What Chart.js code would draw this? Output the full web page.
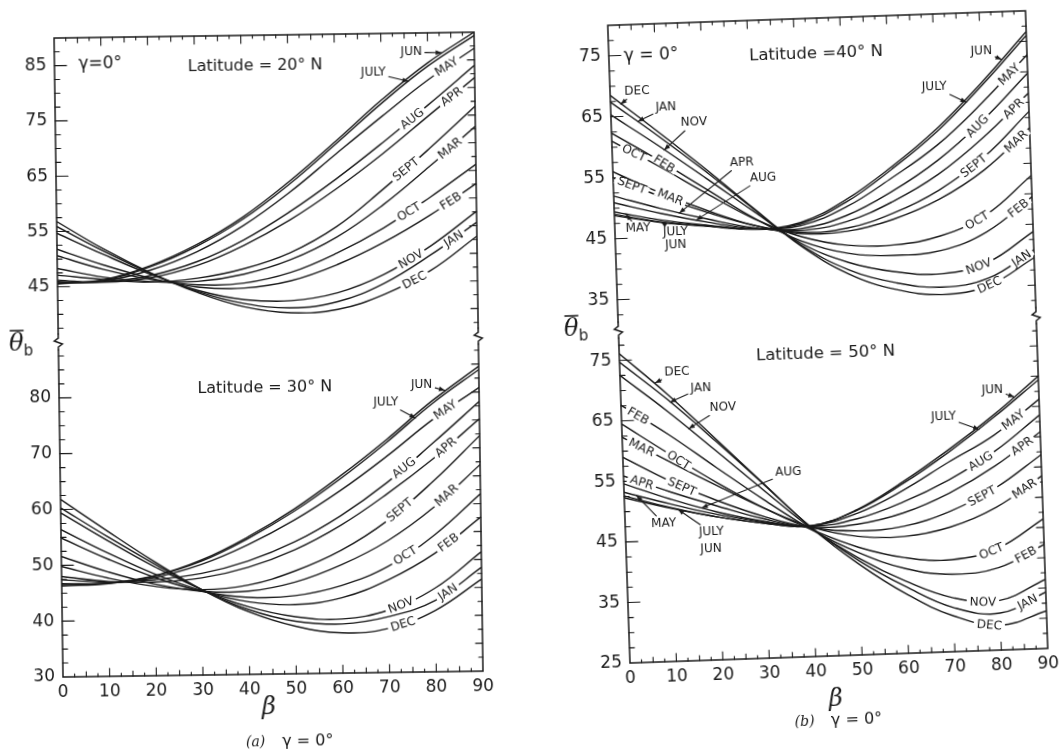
<!DOCTYPE html>
<html>
<head>
<meta charset="utf-8">
<script src="https://cdn.jsdelivr.net/npm/chart.js@4.4.1/dist/chart.umd.min.js"></script>
<style>
  html, body { margin: 0; padding: 0; background: #fff; }
  body { width: 1064px; height: 754px; position: relative; overflow: hidden; }
  .col { position: absolute; top: 0; height: 754px; }
  #colA { left: 0; width: 540px; transform-origin: 63px 677px; transform: rotate(-0.8deg); }
  #colB { left: 540px; width: 524px; transform-origin: 90px 663px; transform: rotate(-2deg); }
</style>
</head>
<body>
<div class="col" id="colA"><canvas id="chartA" width="540" height="754"></canvas></div>
<div class="col" id="colB"><canvas id="chartB" width="524" height="754"></canvas></div>
<script>
// slope of the collector, degrees
const beta = [0, 10, 20, 30, 40, 50, 60, 70, 80, 90];
const betaTicks = [0, 10, 20, 30, 40, 50, 60, 70, 80, 90];
const months = ['JAN', 'FEB', 'MAR', 'APR', 'MAY', 'JUN', 'JULY', 'AUG', 'SEPT', 'OCT', 'NOV', 'DEC'];

// mean beam incidence angle, one row per month (JAN..DEC)
const lat20 = [
  [55.9, 51.3, 47.2, 43.8, 41.5, 40.6, 41.6, 44.8, 49.8, 55.6],
  [51.8, 48.8, 46.3, 44.6, 44.3, 45.5, 48.3, 52.2, 57.0, 62.6],
  [48.3, 46.6, 45.7, 45.6, 46.8, 49.3, 53.3, 59.0, 65.8, 73.0],
  [46.2, 45.7, 46.4, 48.5, 52.0, 56.5, 62.0, 68.2, 75.0, 81.8],
  [45.7, 45.9, 47.8, 51.0, 55.6, 61.5, 68.3, 75.0, 81.5, 87.1],
  [45.5, 46.2, 48.6, 52.3, 57.2, 63.5, 70.6, 78.0, 84.6, 90.0],
  [45.6, 46.1, 48.4, 52.0, 56.8, 63.0, 70.1, 77.4, 84.0, 89.4],
  [45.9, 45.8, 46.8, 49.2, 53.0, 58.0, 63.8, 70.2, 77.0, 84.0],
  [47.1, 46.2, 45.6, 46.2, 47.8, 50.6, 55.2, 61.8, 69.0, 76.6],
  [50.6, 48.0, 46.1, 45.0, 45.2, 47.0, 50.4, 54.8, 60.2, 66.1],
  [54.7, 50.7, 47.0, 44.0, 42.2, 41.9, 43.2, 46.4, 51.4, 57.6],
  [56.8, 51.7, 47.3, 43.6, 40.9, 39.7, 40.2, 42.8, 47.0, 53.1]
];
const lat30 = [
  [60.3, 55.0, 50.0, 45.3, 41.6, 39.4, 38.8, 40.0, 42.8, 48.6],
  [56.4, 52.1, 48.2, 45.1, 43.0, 42.4, 43.5, 46.6, 51.2, 57.6],
  [51.6, 48.7, 46.4, 45.0, 44.9, 46.4, 49.4, 53.6, 59.5, 67.0],
  [48.0, 47.0, 46.8, 47.4, 49.2, 52.2, 56.5, 62.0, 68.2, 75.2],
  [46.7, 46.7, 47.6, 49.8, 53.2, 57.5, 62.7, 68.7, 75.2, 80.8],
  [46.3, 46.6, 47.9, 50.6, 54.6, 59.5, 65.3, 71.7, 78.6, 84.6],
  [46.5, 46.7, 47.9, 50.4, 54.3, 59.1, 64.8, 71.2, 78.1, 84.0],
  [47.4, 46.9, 47.2, 48.2, 50.3, 53.6, 58.2, 64.0, 71.0, 78.3],
  [49.8, 47.6, 46.0, 45.3, 46.0, 48.4, 52.0, 57.2, 64.2, 72.2],
  [54.9, 51.0, 47.6, 45.0, 43.8, 44.0, 45.7, 49.0, 54.5, 61.8],
  [59.4, 54.3, 49.5, 45.3, 42.1, 40.2, 39.7, 41.2, 45.0, 51.4],
  [61.8, 56.0, 50.4, 45.3, 41.2, 38.5, 37.2, 37.9, 41.0, 46.5]
];
const lat40 = [
  [67.4, 61.6, 55.5, 49.1, 42.9, 38.6, 36.2, 35.2, 36.4, 40.8],
  [62.3, 57.6, 52.6, 47.6, 43.6, 41.3, 40.7, 41.2, 44.0, 49.5],
  [56.0, 52.3, 49.1, 46.4, 44.8, 44.9, 46.6, 49.6, 54.2, 60.8],
  [52.0, 49.7, 47.7, 46.0, 45.3, 46.5, 49.5, 53.7, 59.5, 66.5],
  [49.4, 47.8, 46.7, 45.8, 46.1, 48.9, 53.4, 58.5, 65.2, 72.8],
  [48.8, 47.4, 46.5, 45.8, 46.6, 50.1, 55.2, 61.2, 68.5, 76.6],
  [49.0, 47.5, 46.6, 45.8, 46.4, 49.7, 54.8, 60.7, 68.0, 76.0],
  [50.9, 48.9, 47.2, 45.9, 45.6, 47.5, 51.2, 56.0, 62.3, 69.8],
  [55.0, 51.7, 48.8, 46.4, 45.0, 45.4, 47.6, 51.1, 56.3, 63.5],
  [61.0, 56.6, 51.9, 47.5, 44.3, 42.6, 42.4, 43.6, 46.8, 53.0],
  [65.3, 60.0, 54.4, 48.7, 43.2, 39.8, 38.0, 37.4, 39.0, 43.8],
  [68.5, 62.3, 55.9, 49.2, 42.7, 37.9, 35.1, 34.0, 35.2, 39.5]
];
const lat50 = [
  [74.7, 68.3, 61.2, 53.8, 46.4, 40.6, 36.0, 32.3, 31.1, 34.3],
  [67.6, 62.5, 56.8, 51.2, 46.0, 41.9, 39.0, 37.8, 38.6, 42.2],
  [62.3, 58.0, 53.8, 49.8, 46.4, 44.6, 44.3, 45.6, 48.6, 53.5],
  [55.9, 53.0, 50.4, 48.0, 46.4, 46.6, 48.2, 51.2, 55.4, 60.8],
  [53.2, 51.0, 49.0, 47.5, 46.6, 48.4, 51.9, 56.3, 60.5, 66.2],
  [52.3, 50.3, 48.6, 47.3, 46.6, 49.0, 53.3, 58.3, 63.8, 70.0],
  [52.6, 50.4, 48.6, 47.3, 46.6, 48.9, 53.0, 57.9, 63.4, 69.4],
  [54.6, 51.8, 49.4, 47.6, 46.5, 47.5, 50.0, 53.4, 57.8, 63.6],
  [59.0, 54.8, 51.3, 48.4, 46.3, 45.5, 46.0, 48.2, 51.8, 57.0],
  [64.5, 59.3, 54.3, 49.8, 46.0, 42.8, 40.8, 40.2, 41.8, 46.4],
  [72.5, 66.3, 59.6, 52.8, 46.2, 41.0, 36.9, 33.9, 33.2, 36.4],
  [76.1, 69.2, 61.6, 53.9, 46.3, 40.0, 34.8, 30.9, 29.1, 31.2]
];

// tick labels of each panel
const ticks20 = [45, 55, 65, 75, 85];
const ticks30 = [30, 40, 50, 60, 70, 80];
const ticks40 = [35, 45, 55, 65, 75];
const ticks50 = [25, 35, 45, 55, 65, 75];

// curve labels: [month, beta along curve] written on the line
const inline20 = [['AUG', 76.5], ['SEPT', 75], ['OCT', 75.5], ['NOV', 75.8], ['DEC', 76.5],
  ['MAY', 84], ['APR', 85], ['MAR', 84.5], ['FEB', 84.5], ['JAN', 85]];
const inline30 = [['AUG', 73.7], ['SEPT', 72.6], ['OCT', 73.7], ['NOV', 72.6], ['DEC', 73],
  ['MAY', 82.7], ['APR', 82.7], ['MAR', 82.7], ['FEB', 83], ['JAN', 82.7]];
const inline40 = [['AUG', 78.8], ['SEPT', 77.7], ['OCT', 78], ['NOV', 78], ['DEC', 80.2],
  ['MAY', 86], ['APR', 86.7], ['MAR', 87], ['FEB', 87], ['JAN', 87.3],
  ['OCT', 4.7], ['FEB', 11.1], ['SEPT', 4], ['MAR', 12.2]];
const inline50 = [['AUG', 77], ['SEPT', 77], ['OCT', 78.6], ['NOV', 76.4], ['DEC', 77.6],
  ['MAY', 84.3], ['APR', 86], ['MAR', 86.2], ['FEB', 86], ['JAN', 86],
  ['FEB', 3.6], ['OCT', 12], ['MAR', 4.1], ['SEPT', 12.5], ['APR', 3.9]];
// curve labels with a leader: [month, text beta, text value, beta pointed at]
const leader20 = [['JUN', 76.5, 86.5, 83], ['JULY', 68.3, 82.9, 75.8]];
const leader30 = [['JUN', 77.7, 81.5, 82.7], ['JULY', 70, 78.4, 76.3]];
const leader40 = [['JUN', 80.2, 73.7, 84.5], ['JULY', 69.8, 68, 76.6], ['DEC', 5.8, 69.1, 2.2],
  ['JAN', 11.9, 66.2, 5.8], ['NOV', 17.8, 63.6, 11.2], ['APR', 27.8, 56.8, 14], ['AUG', 32.3, 54.2, 17.6],
  ['MAY', 5, 46.5, 2.5], ['JULY', 13, 45.8, 10], ['JUN', 13, 43.7, null]];
const leader50 = [['JUN', 80, 68, 84.7], ['JULY', 69.3, 63.8, 76.9], ['DEC', 12.3, 72.7, 7.5],
  ['JAN', 17.3, 70, 10.6], ['NOV', 21.9, 66.7, 14.4], ['AUG', 35.5, 55.5, 16.6],
  ['MAY', 8.3, 47.8, 2.7], ['JULY', 18.5, 46.1, 11.5], ['JUN', 18.3, 43.4, null]];

const INK = '#1a1a1a';
const FONT = '"DejaVu Sans", sans-serif';

function monthSets(values, axisId) {
  return values.map((row, i) => ({
    label: axisId + ' ' + months[i],
    data: row.map((v, j) => ({ x: beta[j], y: v })),
    yAxisID: axisId,
    borderColor: INK,
    borderWidth: 1.4,
    pointRadius: 0,
    tension: 0.4,
    fill: false
  }));
}

function fixedTicks(list) {
  return axis => { axis.ticks = list.map(v => ({ value: v })); };
}

function yScale(min, max, list, weight, order, width, size) {
  return {
    type: 'linear', position: 'left', stack: 'col', stackWeight: weight, weight: order,
    min: min, max: max,
    grid: { display: false, drawTicks: false }, border: { display: false },
    afterBuildTicks: fixedTicks(list),
    afterFit: s => { s.width = width; },
    ticks: { color: INK, font: { family: FONT, size: size }, padding: 8 }
  };
}

function zigzag(ctx, x, y) {
  ctx.beginPath();
  ctx.moveTo(x, y - 8); ctx.lineTo(x, y - 4); ctx.lineTo(x - 4, y - 1);
  ctx.lineTo(x + 4, y + 2); ctx.lineTo(x, y + 5); ctx.lineTo(x, y + 8);
  ctx.stroke();
}

function curveAt(chart, dsIndex, b) {
  const meta = chart.getDatasetMeta(dsIndex);
  const px = chart.scales.x.getPixelForValue(b);
  const p = meta.dataset.interpolate({ x: px }, 'x');
  return p && p.x !== undefined ? p : null;
}

function makeDecor(spec) {
  return {
    id: 'decor' + spec.name,
    afterDatasetsDraw(chart) {
      const ctx = chart.ctx, a = chart.chartArea, xs = chart.scales.x;
      const yb = chart.scales[spec.panels[1].axis].top;
      ctx.save();
      ctx.strokeStyle = INK; ctx.fillStyle = INK; ctx.lineWidth = 1.5; ctx.lineCap = 'round';

      // frame with the axis break
      ctx.beginPath();
      ctx.moveTo(a.left, yb - 8); ctx.lineTo(a.left, a.top); ctx.lineTo(a.right, a.top); ctx.lineTo(a.right, yb - 8);
      ctx.moveTo(a.left, yb + 8); ctx.lineTo(a.left, a.bottom); ctx.lineTo(a.right, a.bottom); ctx.lineTo(a.right, yb + 8);
      ctx.stroke();
      zigzag(ctx, a.left, yb); zigzag(ctx, a.right, yb);

      // inward ticks
      ctx.lineWidth = 1.1;
      ctx.beginPath();
      spec.panels.forEach(p => {
        const sc = chart.scales[p.axis];
        for (let v = Math.ceil(sc.min / 2.5) * 2.5; v <= sc.max; v += 2.5) {
          const y = sc.getPixelForValue(v);
          if (Math.abs(y - yb) < 9 || y < a.top + 3 || y > a.bottom - 3) continue;
          const big = p.ticks.includes(v);
          ctx.moveTo(a.left, y); ctx.lineTo(a.left + (big ? 12 : 5), y);
          ctx.moveTo(a.right, y); ctx.lineTo(a.right - (v % 5 === 0 ? 7 : 4), y);
        }
      });
      for (let b = 2.5; b < 90; b += 2.5) {
        const x = xs.getPixelForValue(b);
        const len = b % 10 === 0 ? 8 : (b % 5 === 0 ? 5 : 3);
        ctx.moveTo(x, a.bottom); ctx.lineTo(x, a.bottom - len);
        ctx.moveTo(x, a.top); ctx.lineTo(x, a.top + len);
      }
      ctx.stroke();

      // month labels
      ctx.textAlign = 'center'; ctx.textBaseline = 'middle';
      ctx.font = spec.labelSize + 'px ' + FONT;
      spec.panels.forEach((p, pi) => {
        const sc = chart.scales[p.axis];
        p.inline.forEach(([m, b]) => {
          const di = pi * 12 + months.indexOf(m);
          const c = curveAt(chart, di, b);
          const c1 = curveAt(chart, di, Math.max(0, b - 2));
          const c2 = curveAt(chart, di, Math.min(90, b + 2));
          if (!c || !c1 || !c2) return;
          const ang = Math.atan2(c2.y - c1.y, c2.x - c1.x);
          const w = ctx.measureText(m).width;
          ctx.save();
          ctx.translate(c.x, c.y); ctx.rotate(ang);
          ctx.fillStyle = '#fff';
          ctx.fillRect(-w / 2 - 3, -4, w + 6, 8);
          ctx.fillStyle = INK;
          ctx.fillText(m, 0, 0.5);
          ctx.restore();
        });
        p.leaders.forEach(([m, tb, tv, target]) => {
          const cx = xs.getPixelForValue(tb), cy = sc.getPixelForValue(tv);
          ctx.fillText(m, cx, cy);
          if (target === null) return;
          const c = curveAt(chart, pi * 12 + months.indexOf(m), target);
          if (!c) return;
          const w = ctx.measureText(m).width, h = spec.labelSize;
          const dx = c.x - cx, dy = c.y - cy;
          const s = Math.min(1, (w / 2 + 3) / Math.max(Math.abs(dx), 0.01), (h / 2 + 2) / Math.max(Math.abs(dy), 0.01));
          const sx = cx + dx * s, sy = cy + dy * s;
          ctx.beginPath(); ctx.moveTo(sx, sy); ctx.lineTo(c.x, c.y); ctx.stroke();
          const ang = Math.atan2(c.y - sy, c.x - sx);
          ctx.save();
          ctx.translate(c.x, c.y); ctx.rotate(ang);
          ctx.beginPath(); ctx.moveTo(0, 0); ctx.lineTo(-6, -2.4); ctx.lineTo(-6, 2.4); ctx.closePath(); ctx.fill();
          ctx.restore();
        });
        // panel captions inside the plot
        p.texts.forEach(([t, tb, tv, size]) => {
          ctx.font = size + 'px ' + FONT;
          ctx.fillText(t, xs.getPixelForValue(tb), sc.getPixelForValue(tv));
        });
        ctx.font = spec.labelSize + 'px ' + FONT;
      });

      // axis titles and figure caption
      ctx.font = 'italic 24px "DejaVu Serif", serif';
      ctx.fillText('\u03B2', xs.getPixelForValue(spec.betaAt), a.bottom + spec.betaDy);
      const tx = a.left + spec.thetaDx, ty = yb + spec.thetaDy;
      ctx.fillText('\u03B8', tx, ty);
      ctx.lineWidth = 1.4;
      ctx.beginPath(); ctx.moveTo(tx - 6, ty - 14); ctx.lineTo(tx + 7, ty - 14); ctx.stroke();
      ctx.font = '15px ' + FONT;
      ctx.fillText('b', tx + 12, ty + 7);
      ctx.font = 'italic 14px "DejaVu Serif", serif';
      ctx.textAlign = 'left';
      const capX = xs.getPixelForValue(spec.capAt), capY = a.bottom + spec.capDy;
      ctx.fillText(spec.caption, capX, capY);
      ctx.font = '16px ' + FONT;
      ctx.fillText('\u03B3 = 0\u00B0', capX + ctx.measureText('(a)').width + 14, capY);
      ctx.restore();
    }
  };
}

function build(canvasId, spec) {
  const scales = {
    x: {
      type: 'linear', min: 0, max: 90, position: 'bottom',
      grid: { display: false, drawTicks: false }, border: { display: false },
      afterBuildTicks: fixedTicks(betaTicks),
      afterFit: s => { s.height = 30; },
      ticks: { color: INK, font: { family: FONT, size: spec.tickSize }, padding: 5, autoSkip: false, maxRotation: 0 }
    }
  };
  const datasets = [];
  spec.panels.forEach((p, i) => {
    scales[p.axis] = yScale(p.min, p.max, p.ticks, p.weight, 2 - i, spec.left, spec.tickSize);
    datasets.push(...monthSets(p.values, p.axis));
  });
  new Chart(document.getElementById(canvasId), {
    type: 'line',
    data: { datasets: datasets },
    options: {
      responsive: false, animation: false, events: [],
      layout: { padding: { left: 0, right: spec.right, top: spec.top, bottom: spec.bottom } },
      plugins: { legend: { display: false }, tooltip: { enabled: false } },
      scales: scales
    },
    plugins: [makeDecor(spec)]
  });
}

build('chartA', {
  name: 'A', left: 63, right: 57, top: 38, bottom: 47, tickSize: 17, labelSize: 12,
  betaAt: 44, betaDy: 34, capAt: 39, capDy: 68, caption: '(a)', thetaDx: -42, thetaDy: 2,
  panels: [
    { axis: 'y20', min: 35, max: 90, ticks: ticks20, weight: 304, values: lat20, inline: inline20, leaders: leader20,
      texts: [['\u03B3=0\u00B0', 9.8, 85.2, 17], ['Latitude = 20\u00B0 N', 43, 84.4, 16]] },
    { axis: 'y30', min: 30, max: 90, ticks: ticks30, weight: 335, values: lat30, inline: inline30, leaders: leader30,
      texts: [['Latitude = 30\u00B0 N', 44.1, 81.3, 16]] }
  ]
});

build('chartB', {
  name: 'B', left: 90, right: 16, top: 25, bottom: 61, tickSize: 17, labelSize: 12,
  betaAt: 44, betaDy: 44, capAt: 35, capDy: 65, caption: '(b)', thetaDx: -47, thetaDy: -2,
  panels: [
    { axis: 'y40', min: 30, max: 80, ticks: ticks40, weight: 305, values: lat40, inline: inline40, leaders: leader40,
      texts: [['\u03B3 = 0\u00B0', 9.1, 74.8, 17], ['Latitude =40\u00B0 N', 44.6, 74.1, 16.5]] },
    { axis: 'y50', min: 25, max: 80, ticks: ticks50, weight: 333, values: lat50, inline: inline50, leaders: leader50,
      texts: [['Latitude = 50\u00B0 N', 44.4, 74.9, 16.5]] }
  ]
});
</script>
</body>
</html>
